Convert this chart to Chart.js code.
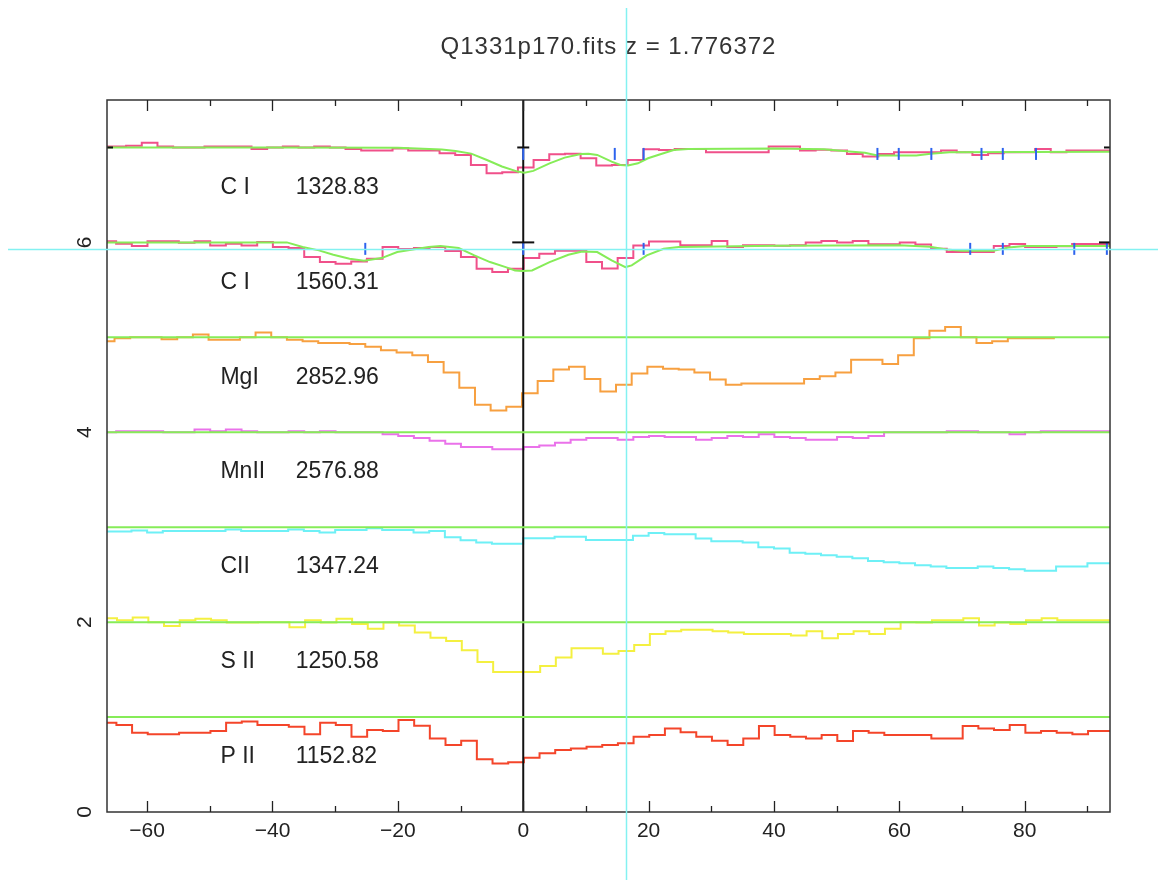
<!DOCTYPE html>
<html>
<head>
<meta charset="utf-8">
<title>Q1331p170.fits z = 1.776372</title>
<script src="https://cdn.jsdelivr.net/npm/chart.js@4.4.1/dist/chart.umd.min.js"></script>
<style>
  html, body { margin: 0; padding: 0; background: #ffffff; }
  #wrap { width: 1158px; height: 880px; position: relative; }
  canvas { display: block; }
</style>
</head>
<body>
<div id="wrap"><canvas id="stack" width="1158" height="880"></canvas></div>
<script>
// ---- axis ranges and ticks ----
const CHART_TITLE = 'Q1331p170.fits z = 1.776372';
const VEL_MIN = -66.4, VEL_MAX = 93.6;
const FLUX_MIN = 0, FLUX_MAX = 7.5;
const BIN_WIDTH = 2.5;                       // km/s per spectral bin
const velocityTicks = [-60, -40, -20, 0, 20, 40, 60, 80];
const velocityMinorTicks = [-50, -30, -10, 10, 30, 50, 70, 90];
const fluxTicks = [0, 2, 4, 6];

// ---- transitions, stacked by offset ----
const ionNames = ['C I', 'C I', 'MgI', 'MnII', 'CII', 'S II', 'P II'];
const restWavelengths = ['1328.83', '1560.31', '2852.96', '2576.88', '1347.24', '1250.58', '1152.82'];
const rowLevels = [7, 6, 5, 4, 3, 2, 1];
const binStarts = [-68.35, -67.44, -67.7, -67.44, -67.5, -67.3, -67.4];   // left edge of first bin (km/s)

const ci1328Flux = [7.0, 7.009, 7.009, 7.019, 7.05, 7.009, 7.0, 7.0, 7.009, 7.009,
  7.009, 6.984, 7.0, 7.009, 7.0, 7.009, 7.0, 6.984, 6.967, 6.967,
  6.99, 6.967, 6.967, 6.939, 6.921, 6.816, 6.728, 6.74, 6.788, 6.868,
  6.928, 6.935, 6.886, 6.809, 6.816, 6.868, 6.981, 6.974, 6.984, 6.984,
  6.949, 6.949, 6.949, 6.949, 7.009, 7.009, 6.967, 6.975, 6.967, 6.932,
  6.904, 6.932, 6.949, 6.949, 6.949, 6.967, 6.95, 6.921, 6.939, 6.95,
  6.949, 6.984, 6.949, 6.967, 6.967];
const ci1560Flux = [6.011, 6.011, 5.986, 5.961, 6.011, 6.011, 5.996, 6.011, 5.968, 5.986,
  5.968, 6.005, 5.951, 5.94, 5.846, 5.793, 5.775, 5.8, 5.828, 5.951,
  5.93, 5.94, 5.951, 5.909, 5.846, 5.723, 5.688, 5.723, 5.835, 5.88,
  5.912, 5.912, 5.793, 5.726, 5.835, 5.968, 6.01, 6.01, 5.97, 5.97,
  6.014, 5.951, 5.97, 5.97, 5.965, 5.97, 6.0, 6.014, 6.0, 6.014,
  5.98, 5.98, 6.0, 5.979, 5.933, 5.898, 5.898, 5.898, 5.961, 5.982,
  5.951, 5.951, 5.96, 5.982, 5.982];
const mgi2852Flux = [4.94, 4.96, 4.99, 5.0, 5.0, 4.98, 5.0, 5.03, 4.975, 4.975,
  5.0, 5.05, 5.0, 4.975, 4.96, 4.94, 4.94, 4.93, 4.90, 4.865,
  4.84, 4.81, 4.74, 4.63, 4.47, 4.29, 4.23, 4.27, 4.41, 4.54,
  4.66, 4.69, 4.56, 4.43, 4.50, 4.62, 4.69, 4.67, 4.66, 4.63,
  4.555, 4.50, 4.515, 4.515, 4.515, 4.515, 4.56, 4.59, 4.63, 4.765,
  4.765, 4.72, 4.81, 4.99, 5.07, 5.11, 5.0, 4.94, 4.96, 4.99, 4.99];
const mnii2576Flux = [4.0, 4.0, 4.01, 4.01, 4.01, 4.0, 4.0, 4.03, 4.01, 4.03,
  4.01, 4.0, 4.0, 4.01, 4.0, 4.01, 4.0, 4.0, 4.0, 3.98,
  3.96, 3.94, 3.91, 3.88, 3.845, 3.845, 3.82, 3.82, 3.845, 3.86,
  3.89, 3.92, 3.94, 3.94, 3.92, 3.95, 3.96, 3.95, 3.95, 3.92,
  3.94, 3.96, 3.95, 3.98, 3.95, 3.94, 3.92, 3.92, 3.95, 3.94,
  3.96, 4.0, 4.0, 4.0, 4.0, 4.01, 4.01, 4.0, 4.0, 3.98,
  4.0, 4.01, 4.01, 4.01, 4.01];
const cii1347Flux = [2.955, 2.955, 2.955, 2.965, 2.944, 2.96, 2.96, 2.96, 2.96, 2.975,
  2.96, 2.96, 2.96, 2.975, 2.96, 2.944, 2.97, 2.97, 2.99, 2.97,
  2.97, 2.944, 2.96, 2.895, 2.863, 2.84, 2.825, 2.825, 2.884, 2.884,
  2.90, 2.90, 2.866, 2.866, 2.866, 2.91, 2.94, 2.926, 2.926, 2.88,
  2.853, 2.853, 2.84, 2.79, 2.775, 2.73, 2.72, 2.705, 2.69, 2.674,
  2.645, 2.63, 2.62, 2.60, 2.586, 2.57, 2.57, 2.586, 2.57, 2.558,
  2.54, 2.54, 2.586, 2.586, 2.62];
const sii1250Flux = [1.98, 2.04, 2.02, 2.05, 2.0, 1.96, 2.02, 2.035, 2.02, 1.995,
  1.995, 2.0, 2.0, 1.945, 2.02, 1.995, 2.035, 1.98, 1.93, 1.995,
  1.965, 1.89, 1.835, 1.80, 1.705, 1.58, 1.474, 1.474, 1.474, 1.537,
  1.628, 1.726, 1.726, 1.667, 1.695, 1.758, 1.874, 1.905, 1.92, 1.92,
  1.905, 1.89, 1.874, 1.874, 1.874, 1.86, 1.905, 1.83, 1.874, 1.905,
  1.874, 1.93, 2.0, 1.995, 2.02, 2.02, 2.04, 1.965, 1.995, 1.98,
  2.02, 2.04, 2.02, 2.02, 2.02];
const pii1152Flux = [0.926, 0.94, 0.916, 0.835, 0.82, 0.82, 0.835, 0.835, 0.853, 0.94,
  0.954, 0.916, 0.916, 0.898, 0.82, 0.94, 0.916, 0.793, 0.863, 0.853,
  0.968, 0.909, 0.775, 0.705, 0.75, 0.555, 0.512, 0.523, 0.572, 0.618,
  0.653, 0.67, 0.688, 0.705, 0.723, 0.793, 0.81, 0.88, 0.839, 0.793,
  0.75, 0.705, 0.775, 0.905, 0.81, 0.793, 0.775, 0.81, 0.747, 0.853,
  0.835, 0.81, 0.81, 0.81, 0.775, 0.775, 0.905, 0.88, 0.863, 0.916,
  0.835, 0.853, 0.835, 0.82, 0.853];

// ---- Voigt-profile fits for the two C I lines ----
const fitVel1328 = [-67, -40, -20, -15, -13, -10.8, -8.3, -5.8, -3.4, -0.9, 0.2, 1.6, 4.2, 6.6, 9.2,
  10.4, 11.8, 14.1, 15.5, 16.7, 18.3, 19.9, 21.5, 24, 26.3, 40, 48, 52, 54.5, 56.5, 62.7, 65, 68, 94];
const fitFlux1328 = [7.0, 6.999, 6.997, 6.985, 6.978, 6.963, 6.935, 6.868, 6.8, 6.746, 6.735, 6.753, 6.833, 6.893, 6.932,
  6.935, 6.921, 6.851, 6.816, 6.809, 6.833, 6.886, 6.921, 6.974, 6.984, 6.99, 6.98, 6.958, 6.945, 6.915, 6.915, 6.935, 6.95, 6.955];
const fitVel1560 = [-67, -37.7, -35.2, -32.6, -30.3, -27.7, -25.4, -22.6, -20.1, -17.6, -15.1, -13.2, -10.3, -7.8, -5.3,
  -2.8, -1.3, -0.1, 1.4, 4.2, 7.2, 9.4, 11.8, 14.1, 16.3, 17.3, 19.7, 22.4, 24.8, 40.2, 60, 64.9, 67.5, 70, 75, 77.4, 80, 94];
const fitFlux1560 = [6.0, 6.0, 5.951, 5.916, 5.87, 5.828, 5.807, 5.835, 5.898, 5.926, 5.951, 5.961, 5.94, 5.863, 5.793,
  5.74, 5.705, 5.698, 5.705, 5.793, 5.87, 5.905, 5.898, 5.81, 5.74, 5.758, 5.863, 5.933, 5.951, 5.965, 5.97, 5.955, 5.926, 5.912, 5.912, 5.947, 5.961, 5.961];

// ---- velocity component markers ----
const components1328 = [0, 14.6, 19.2, 56.5, 59.9, 65.1, 73.1, 76.5, 81.8];
const components1560 = [-25.2, 0, 19.2, 71.3, 76.5, 87.9, 93.1];
const fitLimits1328 = [VEL_MIN, 0, VEL_MAX];
const fitLimits1560 = [0, VEL_MAX];

const continuumLevels = [5, 4, 3, 2, 1];
const cursorVelocity = 16.38;
const cursorFlux = 5.931;

// ---- styling ----
const SPEC_COLORS = ['#f0508a', '#f0508a', '#f7a040', '#ea72ea', '#6ef0f6', '#f4f040', '#f4452a'];
const FIT_GREEN = '#86ec58';
const MARK_BLUE = '#2d63ee';
const CURSOR_CYAN = '#84f1f1';
const INK = '#222222';
const FONT = '"Liberation Sans", Arial, sans-serif';
const LABEL_DROP = 0.42;
const NAME_VEL = -48.3;
const WAVE_VEL = -36.3;

const spectra = [ci1328Flux, ci1560Flux, mgi2852Flux, mnii2576Flux, cii1347Flux, sii1250Flux, pii1152Flux];

// Histogram outline: one point at each bin's left edge, closed at the last right edge.
function histogramPoints(startEdge, values) {
  const pts = values.map((v, i) => ({ x: startEdge + i * BIN_WIDTH, y: v }));
  pts.push({ x: startEdge + values.length * BIN_WIDTH, y: values[values.length - 1] });
  return pts;
}
function pairPoints(xs, ys) { return xs.map((v, i) => ({ x: v, y: ys[i] })); }

const datasets = [];
spectra.forEach((flux, i) => {
  datasets.push({
    label: ionNames[i] + ' ' + restWavelengths[i],
    data: histogramPoints(binStarts[i], flux),
    borderColor: SPEC_COLORS[i], borderWidth: 2, pointRadius: 0,
    stepped: 'after', tension: 0, order: 5
  });
});
datasets.push({ label: 'v=0', data: [{ x: 0, y: FLUX_MIN }, { x: 0, y: FLUX_MAX }],
  borderColor: '#111111', borderWidth: 2, pointRadius: 0, order: 4 });
continuumLevels.forEach(lvl => {
  datasets.push({ label: 'continuum ' + lvl, data: [{ x: VEL_MIN, y: lvl }, { x: VEL_MAX, y: lvl }],
    borderColor: FIT_GREEN, borderWidth: 2, pointRadius: 0, order: 3 });
});
datasets.push({ label: 'fit 1328', data: pairPoints(fitVel1328, fitFlux1328),
  borderColor: FIT_GREEN, borderWidth: 2, pointRadius: 0, tension: 0, order: 3 });
datasets.push({ label: 'fit 1560', data: pairPoints(fitVel1560, fitFlux1560),
  borderColor: FIT_GREEN, borderWidth: 2, pointRadius: 0, tension: 0, order: 3 });

const markerStyle = (color, radius, rotation) => ({
  showLine: false, pointStyle: 'line', pointRadius: radius, pointHoverRadius: radius,
  pointBorderWidth: 2, pointBorderColor: color, borderColor: color, pointRotation: rotation, order: 1
});
datasets.push(Object.assign({ label: 'limits 1328', data: fitLimits1328.map(v => ({ x: v, y: rowLevels[0] })) }, markerStyle('#111111', 6, 0)));
datasets.push(Object.assign({ label: 'limits 1560', data: fitLimits1560.map(v => ({ x: v, y: rowLevels[1] })) }, markerStyle('#111111', 11, 0)));
datasets.push(Object.assign({ label: 'comps 1328', data: components1328.map(v => ({ x: v, y: rowLevels[0] - 0.068 })) }, markerStyle(MARK_BLUE, 6, 90)));
datasets.push(Object.assign({ label: 'comps 1560', data: components1560.map(v => ({ x: v, y: rowLevels[1] - 0.068 })) }, markerStyle(MARK_BLUE, 6, 90)));

const decorations = {
  id: 'decorations',
  afterDatasetsDraw(chart) {
    const { ctx, chartArea: a, scales: { x, y } } = chart;
    ctx.save();
    // frame
    ctx.strokeStyle = '#333333';
    ctx.lineWidth = 1.5;
    ctx.strokeRect(a.left, a.top, a.right - a.left, a.bottom - a.top);
    // inward ticks on bottom and top edges
    ctx.strokeStyle = INK;
    ctx.lineWidth = 1.3;
    const tick = (v, len) => {
      const px = Math.round(x.getPixelForValue(v)) + 0.5;
      ctx.beginPath();
      ctx.moveTo(px, a.bottom); ctx.lineTo(px, a.bottom - len);
      ctx.moveTo(px, a.top); ctx.lineTo(px, a.top + len);
      ctx.stroke();
    };
    velocityTicks.forEach(v => tick(v, 11));
    velocityMinorTicks.forEach(v => tick(v, 6));
    // vertical flux labels
    ctx.fillStyle = INK;
    ctx.font = '21px ' + FONT;
    ctx.textAlign = 'center';
    ctx.textBaseline = 'middle';
    fluxTicks.forEach(v => {
      ctx.save();
      ctx.translate(84, y.getPixelForValue(v));
      ctx.rotate(-Math.PI / 2);
      ctx.fillText(String(v), 0, 1);
      ctx.restore();
    });
    // transition labels
    ctx.font = '23px ' + FONT;
    ctx.textAlign = 'left';
    rowLevels.forEach((lvl, i) => {
      const py = y.getPixelForValue(lvl - LABEL_DROP);
      ctx.fillText(ionNames[i], x.getPixelForValue(NAME_VEL), py);
      ctx.fillText(restWavelengths[i], x.getPixelForValue(WAVE_VEL), py);
    });
    // title
    ctx.font = '24px ' + FONT;
    ctx.textAlign = 'center';
    ctx.fillStyle = '#333333';
    if ('letterSpacing' in ctx) ctx.letterSpacing = '1px';
    ctx.fillText(CHART_TITLE, (a.left + a.right) / 2, 47);
    ctx.restore();
  },
  afterDraw(chart) {
    const { ctx, scales: { x, y } } = chart;
    const cx = Math.round(x.getPixelForValue(cursorVelocity)) + 0.5;
    const cy = Math.round(y.getPixelForValue(cursorFlux)) + 0.5;
    ctx.save();
    ctx.strokeStyle = CURSOR_CYAN;
    ctx.lineWidth = 1.5;
    ctx.beginPath();
    ctx.moveTo(cx, 8); ctx.lineTo(cx, chart.height);
    ctx.moveTo(8, cy); ctx.lineTo(chart.width, cy);
    ctx.stroke();
    ctx.restore();
  }
};

new Chart(document.getElementById('stack'), {
  type: 'line',
  data: { datasets },
  options: {
    responsive: false,
    animation: false,
    devicePixelRatio: 1,
    layout: { padding: { left: 107, right: 48, top: 100, bottom: 0 } },
    plugins: { legend: { display: false }, tooltip: { enabled: false }, title: { display: false } },
    elements: { line: { borderJoinStyle: 'miter', borderCapStyle: 'butt' } },
    scales: {
      x: {
        type: 'linear', min: VEL_MIN, max: VEL_MAX,
        grid: { display: false, drawTicks: false },
        border: { display: false },
        afterFit(scale) { scale.height = 68; },
        afterBuildTicks(scale) { scale.ticks = velocityTicks.map(v => ({ value: v })); },
        ticks: {
          autoSkip: false, maxRotation: 0, minRotation: 0, padding: 7,
          color: INK, font: { family: FONT, size: 21 },
          callback: v => (v < 0 ? '\u2212' + Math.abs(v) : String(v))
        }
      },
      y: {
        type: 'linear', min: FLUX_MIN, max: FLUX_MAX, display: false
      }
    }
  },
  plugins: [decorations]
});
</script>
</body>
</html>
